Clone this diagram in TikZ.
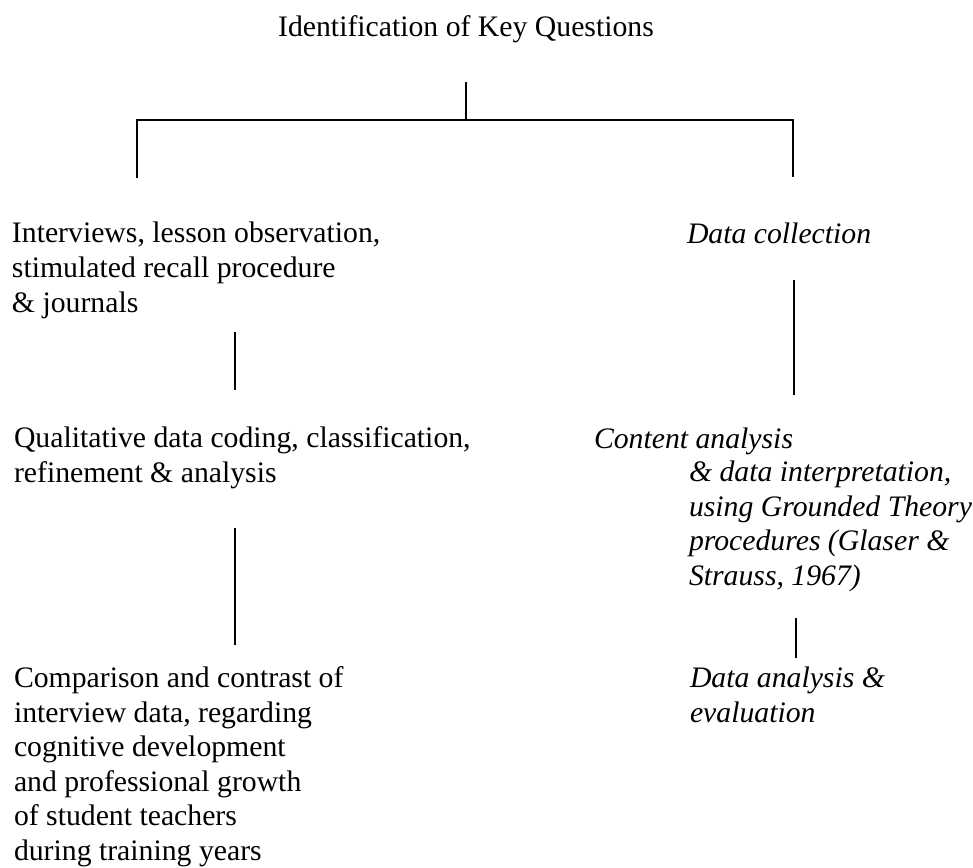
\documentclass[tikz,border=0pt]{standalone}
\usepackage{fontspec}
\setmainfont{Liberation Serif}
\begin{document}
\begin{tikzpicture}[x=0.75pt,y=-0.75pt,
  txt/.style={inner sep=0pt,outer sep=0pt,align=left,
    font=\fontsize{22.3pt}{25.9pt}\selectfont},
  itxt/.style={txt,font=\fontsize{22.3pt}{25.9pt}\selectfont\itshape},
  conn/.style={line width=1pt}]
\useasboundingbox (0,0) rectangle (973,867);
% texts (anchor at the baseline of the last line)
\node[txt,anchor=base] (title) at (466,37) {Identification of Key Questions};
\node[txt,anchor=base west] (l1) at (12,312) {Interviews, lesson observation,\\stimulated recall procedure\\\& journals};
\node[itxt,anchor=base west] (r1) at (687,243) {Data collection};
\node[txt,anchor=base west] (l2) at (14,482) {Qualitative data coding, classification,\\refinement \& analysis};
\node[itxt,anchor=base west] (r2) at (594,448) {Content analysis};
\node[itxt,anchor=base west] (r2b) at (689,585.5) {\& data interpretation,\\using Grounded Theory\\procedures (Glaser \&\\Strauss, 1967)};
\node[txt,anchor=base west] (l3) at (14,860.5) {Comparison and contrast of\\interview data, regarding\\cognitive development\\and professional growth\\of student teachers\\during training years};
\node[itxt,anchor=base west] (r3) at (690,722.5) {Data analysis \&\\evaluation};
% connector coordinates
\coordinate (t0) at (466,82);
\coordinate (t1) at (466,120);
\coordinate (hl) at (137,120);
\coordinate (hr) at (793,120);
\coordinate (vl) at (137,178);
\coordinate (vr) at (793,177);
\coordinate (a0) at (235,332);
\coordinate (a1) at (235,390);
\coordinate (b0) at (794,280);
\coordinate (b1) at (794,395);
\coordinate (c0) at (235,528);
\coordinate (c1) at (235,645);
\coordinate (d0) at (796,618);
\coordinate (d1) at (796,658);
\draw[conn] (t0) -- (t1);
\draw[conn] (vl) -- (hl) -- (hr) -- (vr);
\draw[conn] (a0) -- (a1);
\draw[conn] (b0) -- (b1);
\draw[conn] (c0) -- (c1);
\draw[conn] (d0) -- (d1);
\end{tikzpicture}
\end{document}
